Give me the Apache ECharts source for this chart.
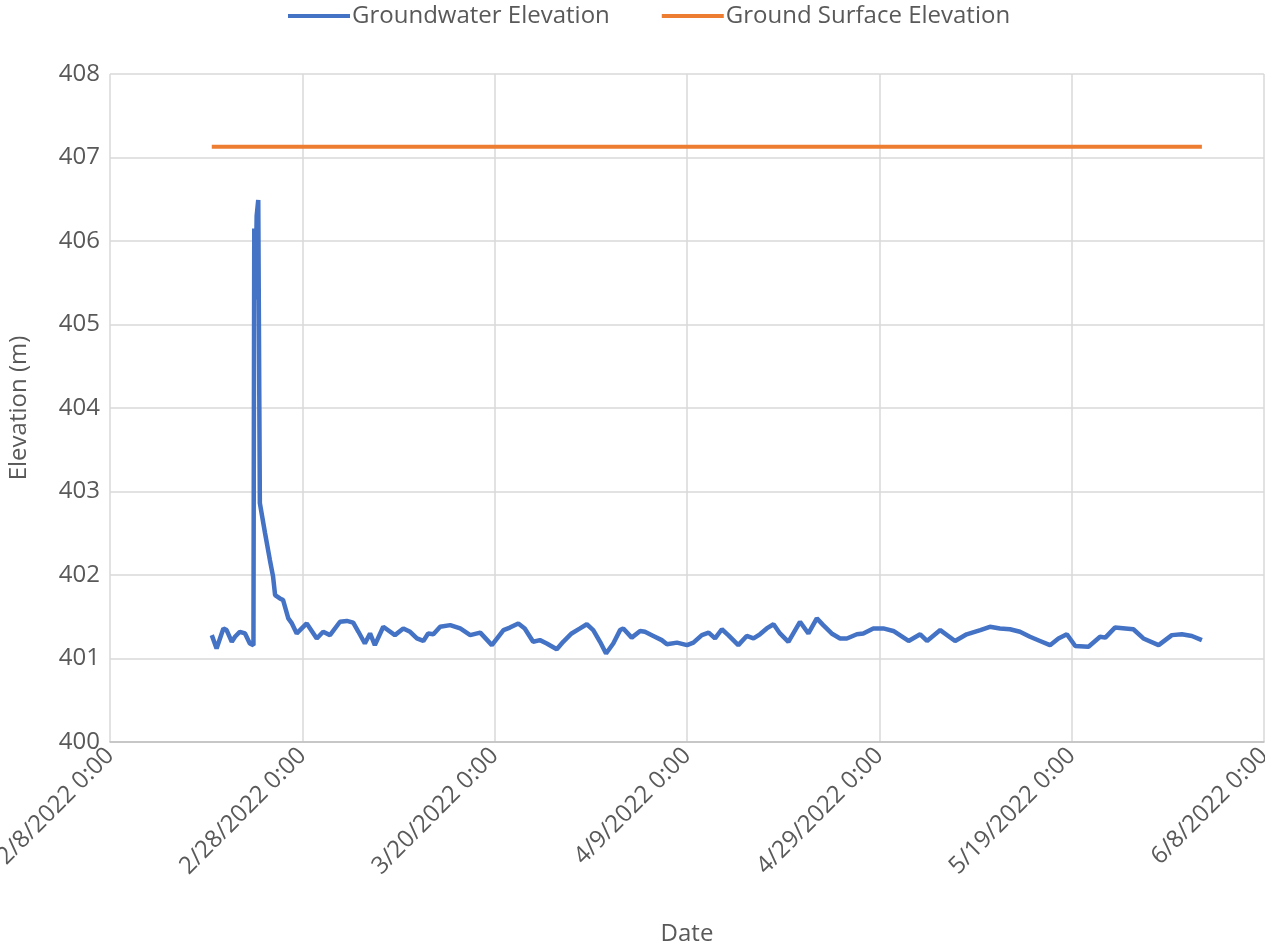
<!DOCTYPE html>
<html>
<head>
<meta charset="utf-8">
<script src="https://cdn.jsdelivr.net/npm/echarts@6/dist/echarts.min.js"></script>
<style>html,body{margin:0;padding:0;background:#fff;}#c{width:1265px;height:948px;}</style>
</head>
<body>
<div id="c"></div>
<script>
// ---- Data ----
const xTickLabels = ['2/8/2022 0:00','2/28/2022 0:00','3/20/2022 0:00','4/9/2022 0:00','4/29/2022 0:00','5/19/2022 0:00','6/8/2022 0:00'];
const gwTimes = [
'2022-02-18 14:00','2022-02-19 02:00','2022-02-19 19:00','2022-02-20 03:00','2022-02-20 16:00','2022-02-21 00:00','2022-02-21 12:00','2022-02-22 01:00','2022-02-22 13:00','2022-02-22 22:00',
'2022-02-23 00:00','2022-02-23 03:00','2022-02-23 06:00','2022-02-23 10:00','2022-02-23 14:00',
'2022-02-24 03:00','2022-02-24 15:00','2022-02-24 23:00','2022-02-25 04:00','2022-02-25 16:00','2022-02-26 00:00','2022-02-26 13:00','2022-02-26 22:00','2022-02-27 10:00','2022-02-28 11:00',
'2022-03-01 12:00','2022-03-02 04:00','2022-03-02 21:00','2022-03-03 22:00','2022-03-04 15:00','2022-03-05 07:00','2022-03-05 20:00','2022-03-06 12:00','2022-03-07 01:00','2022-03-07 13:00',
'2022-03-08 10:00','2022-03-09 15:00','2022-03-10 12:00','2022-03-11 05:00','2022-03-11 22:00','2022-03-12 14:00','2022-03-13 02:00','2022-03-13 15:00','2022-03-14 08:00','2022-03-15 09:00',
'2022-03-16 10:00','2022-03-17 11:00','2022-03-18 12:00','2022-03-19 17:00','2022-03-20 22:00','2022-03-21 14:00','2022-03-22 11:00','2022-03-23 03:00','2022-03-24 00:00','2022-03-24 17:00',
'2022-03-25 10:00','2022-03-26 11:00','2022-03-27 03:00','2022-03-28 00:00','2022-03-28 21:00','2022-03-29 14:00','2022-03-30 06:00','2022-03-30 23:00','2022-03-31 14:00','2022-04-01 08:00',
'2022-04-02 01:00','2022-04-02 09:00','2022-04-03 06:00','2022-04-04 03:00','2022-04-04 15:00','2022-04-05 12:00','2022-04-06 09:00','2022-04-06 22:00','2022-04-07 23:00','2022-04-09 00:00',
'2022-04-09 16:00','2022-04-10 13:00','2022-04-11 06:00','2022-04-11 22:00','2022-04-12 15:00','2022-04-13 07:00','2022-04-14 08:00','2022-04-15 05:00','2022-04-15 22:00','2022-04-16 14:00',
'2022-04-17 07:00','2022-04-18 00:00','2022-04-18 16:00','2022-04-19 13:00','2022-04-20 18:00','2022-04-21 15:00','2022-04-22 12:00','2022-04-23 04:00','2022-04-24 01:00','2022-04-24 22:00',
'2022-04-25 15:00','2022-04-26 16:00','2022-04-27 08:00','2022-04-28 09:00','2022-04-29 10:00','2022-04-30 11:00','2022-05-02 01:00','2022-05-03 06:00','2022-05-03 23:00','2022-05-05 08:00',
'2022-05-06 21:00','2022-05-08 02:00','2022-05-09 12:00','2022-05-10 12:00','2022-05-11 13:00','2022-05-12 14:00','2022-05-13 15:00','2022-05-14 16:00','2022-05-15 17:00','2022-05-16 18:00',
'2022-05-17 15:00','2022-05-18 12:00','2022-05-19 09:00','2022-05-20 18:00','2022-05-21 23:00','2022-05-22 12:00','2022-05-23 12:00','2022-05-25 10:00','2022-05-26 11:00','2022-05-28 01:00',
'2022-05-29 10:00','2022-05-30 11:00','2022-05-31 12:00','2022-06-01 13:00'
];
const gwValues = [
401.28,401.12,401.36,401.34,401.20,401.26,401.32,401.30,401.18,401.16,
406.15,405.30,406.30,406.49,402.86,
402.50,402.18,401.98,401.76,401.72,401.70,401.48,401.42,401.30,401.42,
401.24,401.32,401.28,401.44,401.45,401.43,401.32,401.18,401.30,401.16,
401.38,401.28,401.36,401.32,401.24,401.21,401.30,401.29,401.38,401.40,
401.36,401.28,401.31,401.16,401.34,401.37,401.42,401.36,401.20,401.22,
401.18,401.11,401.20,401.30,401.36,401.41,401.34,401.20,401.06,401.18,
401.34,401.36,401.25,401.33,401.32,401.27,401.22,401.17,401.19,401.16,
401.19,401.28,401.31,401.24,401.35,401.28,401.16,401.27,401.24,401.29,
401.36,401.41,401.30,401.20,401.44,401.30,401.48,401.40,401.30,401.24,
401.24,401.29,401.30,401.36,401.36,401.33,401.21,401.29,401.21,401.34,
401.21,401.29,401.34,401.38,401.36,401.35,401.32,401.26,401.21,401.16,
401.24,401.29,401.15,401.14,401.26,401.25,401.37,401.35,401.24,401.16,
401.28,401.29,401.27,401.22
];
const surfTimes = ['2022-02-18 14:00','2022-06-01 13:00'];
const surfValues = [407.13,407.13];

// ---- Helpers ----
const BASE = Date.UTC(2022,1,8,0,0);
function dayOffset(s){
  const m = s.match(/(\d+)-(\d+)-(\d+) (\d+):(\d+)/);
  const t = Date.UTC(+m[1],+m[2]-1,+m[3],+m[4],+m[5]);
  return (t-BASE)/86400000;
}
const gwData = gwTimes.map((t,i)=>[dayOffset(t),gwValues[i]]);
const surfData = surfTimes.map((t,i)=>[dayOffset(t),surfValues[i]]);

const FONT = '"Open Sans", sans-serif';
const TXT = '#595959';
const FS = 24;
const chart = echarts.init(document.getElementById('c'));
chart.setOption({
  animation:false,
  textStyle:{fontFamily:FONT,color:TXT},
  legend:{
    top:4,left:288,padding:0,
    itemWidth:62,itemHeight:4,itemGap:52,
    icon:'rect',
    textStyle:{fontFamily:FONT,fontSize:FS,color:TXT,padding:[0,0,0,-3]},
    data:['Groundwater Elevation','Ground Surface Elevation']
  },
  grid:{left:110,right:1,top:74,bottom:206,containLabel:false,outerBoundsMode:'none'},
  xAxis:{
    type:'value',min:0,max:120,interval:20,
    name:'Date',nameLocation:'middle',nameGap:180,
    nameTextStyle:{fontFamily:FONT,fontSize:FS,color:TXT},
    axisLine:{show:true,lineStyle:{color:'#bfbfbf',width:1.5}},
    axisTick:{show:false},
    splitLine:{show:true,lineStyle:{color:'#d9d9d9',width:1.5}},
    axisLabel:{rotate:45,fontSize:FS,color:TXT,fontFamily:FONT,margin:10,
      formatter:v=>xTickLabels[Math.round(v/20)]}
  },
  yAxis:{
    type:'value',min:400,max:408,interval:1,
    name:'Elevation (m)',nameLocation:'middle',nameGap:79,
    nameTextStyle:{fontFamily:FONT,fontSize:FS,color:TXT},
    axisLine:{show:false},axisTick:{show:false},
    splitLine:{show:true,lineStyle:{color:'#d9d9d9',width:1.5}},
    axisLabel:{fontSize:FS,color:TXT,fontFamily:FONT,margin:10}
  },
  series:[
    {name:'Groundwater Elevation',type:'line',data:gwData,showSymbol:false,
      lineStyle:{color:'#4472C4',width:4.5},itemStyle:{color:'#4472C4'}},
    {name:'Ground Surface Elevation',type:'line',data:surfData,showSymbol:false,
      lineStyle:{color:'#ED7D31',width:4},itemStyle:{color:'#ED7D31'}}
  ]
});
</script>
</body>
</html>
